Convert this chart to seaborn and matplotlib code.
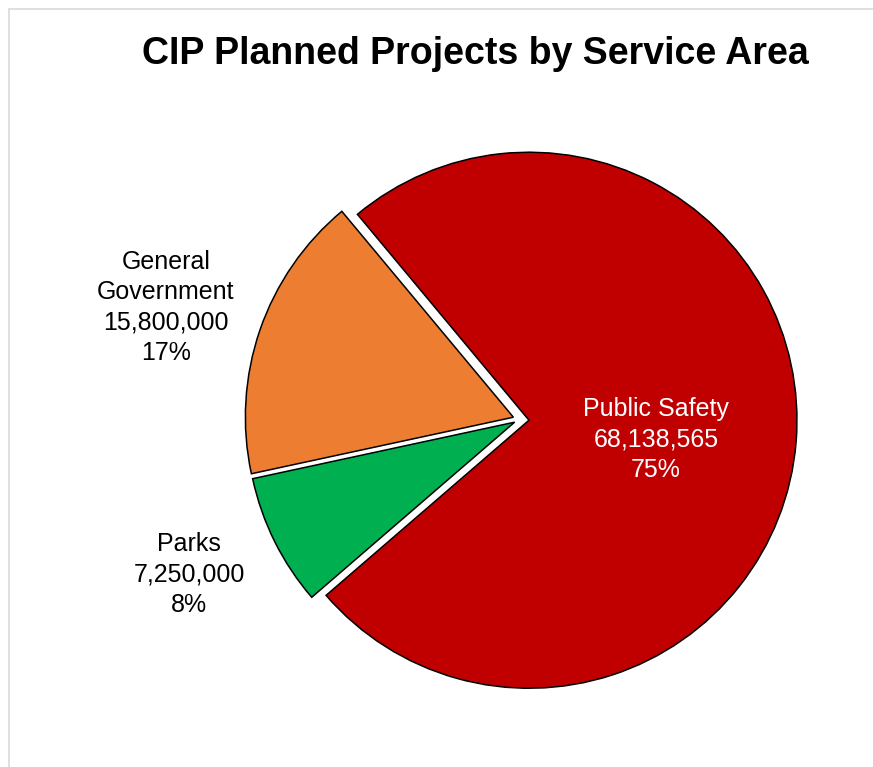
import matplotlib
matplotlib.use("Agg")
import matplotlib.pyplot as plt
from matplotlib.patches import Rectangle
import seaborn as sns

# ---- data ----
categories = ["General\nGovernment", "Parks", "Public Safety"]
values = [15800000, 7250000, 68138565]
colors = ["#ED7D31", "#00B050", "#C00000"]
title = "CIP Planned Projects by Service Area"

sns.set_theme(style="white")
plt.rcParams["font.family"] = ["Liberation Sans", "DejaVu Sans"]

W, H = 873, 767
fig = plt.figure(figsize=(W / 100, H / 100), dpi=100)
ax = fig.add_axes([0, 0, 1, 1])

# chart-area border (only top/left visible)
ax.add_patch(Rectangle((8.5, -20), 2000, H - 8.5 + 20, fill=False,
                       edgecolor="#d9d9d9", lw=1.2, zorder=0))

cx, cy = 520, H - 419.5
R = 268
wedges, _ = ax.pie(values, colors=colors, startangle=129.8, counterclock=True,
                   center=(cx, cy), radius=R,
                   explode=[7, 6, 9],
                   wedgeprops=dict(edgecolor="black", linewidth=1.1),
                   frame=True)
ax.set_xlim(0, W)
ax.set_ylim(0, H)
ax.set_aspect("equal")
ax.axis("off")

total = sum(values)
labels = [f"{c}\n{v:,.0f}\n{v / total:.0%}" for c, v in zip(categories, values)]

# label positions (last-line baselines, screen px)
pos = [(166, 360), (189, 612), (656, 477)]
tcols = ["black", "black", "white"]
for lab, (x, y), tc in zip(labels, pos, tcols):
    ax.text(x, H - y, lab, ha="center", va="baseline", multialignment="center",
            fontsize=18, color=tc, linespacing=1.33)

ax.text(475.5, H - 64, title, ha="center", va="baseline",
        fontsize=27, fontweight="bold", color="black")

fig.savefig("out.png", dpi=100)
